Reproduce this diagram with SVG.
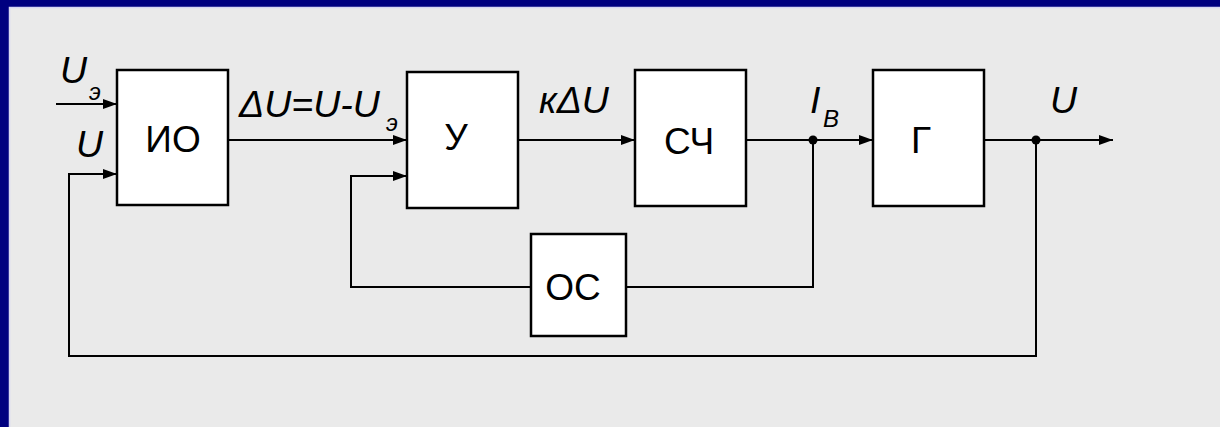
<svg xmlns="http://www.w3.org/2000/svg" width="1220" height="427" viewBox="0 0 1220 427">
  <style>
    .block rect { fill: #ffffff; stroke: #000000; stroke-width: 2.5; }
    .block text { font-family: "Liberation Sans", Arial, sans-serif; font-size: 37px; fill: #000000; text-anchor: middle; }
    .wire { fill: none; stroke: #000000; stroke-width: 2; }
    .lbl { font-family: "Liberation Sans", Arial, sans-serif; font-style: italic; font-size: 37.5px; fill: #000000; }
    .sub { font-family: "Liberation Sans", Arial, sans-serif; font-style: italic; font-size: 24px; fill: #000000; }
  </style>
  <defs>
    <marker id="arrow" viewBox="0 0 14 10" refX="14" refY="5" markerWidth="14" markerHeight="10" markerUnits="userSpaceOnUse" orient="auto">
      <path d="M0,0 L14,5 L0,10 Z" fill="#000000"/>
    </marker>
  </defs>

  <!-- frame and panel -->
  <rect x="0" y="0" width="1220" height="427" fill="#000080"/>
  <rect x="9.5" y="7.5" width="1220" height="430" fill="#eaeaea" stroke="#d8d8f4" stroke-width="1.5"/>

  <!-- connectors -->
  <g id="connectors">
    <path class="wire" d="M56,104 H117" marker-end="url(#arrow)"/>
    <path class="wire" d="M1036,140 V356 H69 V174 H117" marker-end="url(#arrow)"/>
    <path class="wire" d="M228,140 H407" marker-end="url(#arrow)"/>
    <path class="wire" d="M518,140 H635" marker-end="url(#arrow)"/>
    <path class="wire" d="M746,140 H873" marker-end="url(#arrow)"/>
    <path class="wire" d="M984,140 H1113" marker-end="url(#arrow)"/>
    <path class="wire" d="M813,140 V287 H626"/>
    <path class="wire" d="M531,287 H351 V176 H407" marker-end="url(#arrow)"/>
    <circle cx="813" cy="140" r="4.5" fill="#000000"/>
    <circle cx="1036" cy="140" r="4.5" fill="#000000"/>
  </g>

  <!-- signal labels -->
  <g id="labels">
    <text class="lbl" x="60" y="83">U</text>
    <text class="sub" x="89" y="100">э</text>
    <text class="lbl" x="76" y="157">U</text>
    <text class="lbl" x="239" y="117">ΔU=U-U</text>
    <text class="sub" x="386" y="131">э</text>
    <text class="lbl" x="539" y="113">кΔU</text>
    <text class="lbl" x="810" y="113">I</text>
    <text class="sub" x="823" y="127">B</text>
    <text class="lbl" x="1050" y="113">U</text>
  </g>

  <!-- blocks -->
  <g id="IO" class="block">
    <rect x="117" y="70" width="111" height="135"/>
    <text x="173" y="152">ИО</text>
  </g>
  <g id="U_amp" class="block">
    <rect x="407" y="72" width="111" height="136"/>
    <text x="456" y="150">У</text>
  </g>
  <g id="SCh" class="block">
    <rect x="635" y="70" width="111" height="136"/>
    <text x="689" y="154">СЧ</text>
  </g>
  <g id="G" class="block">
    <rect x="873" y="70" width="111" height="136"/>
    <text x="921" y="153">Г</text>
  </g>
  <g id="OS" class="block">
    <rect x="531" y="234" width="95" height="102"/>
    <text x="573" y="300">ОС</text>
  </g>
</svg>
